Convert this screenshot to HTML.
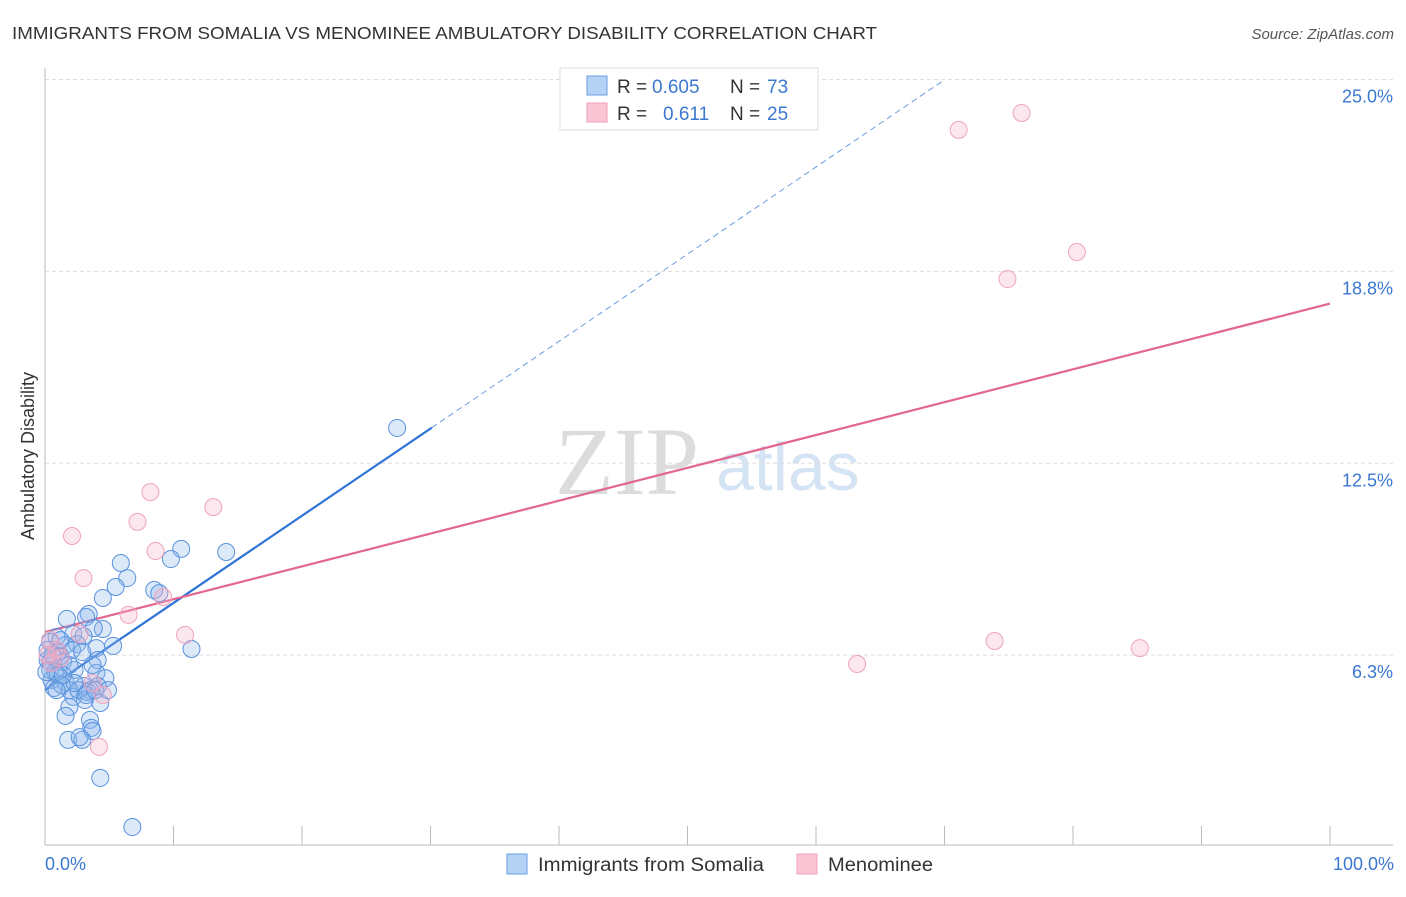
<!DOCTYPE html>
<html><head><meta charset="utf-8"><style>
body{margin:0;background:#fff;font-family:"Liberation Sans",sans-serif;}
</style></head><body>
<svg width="1406" height="892" xmlns="http://www.w3.org/2000/svg" font-family="Liberation Sans, sans-serif">
<text x="12" y="39" font-size="17.5" fill="#333" textLength="865" lengthAdjust="spacingAndGlyphs">IMMIGRANTS FROM SOMALIA VS MENOMINEE AMBULATORY DISABILITY CORRELATION CHART</text>
<text x="1394" y="39" font-size="15" fill="#555" font-style="italic" text-anchor="end">Source: ZipAtlas.com</text>
<text x="555" y="494" font-size="96" fill="#dcdcdc" font-family="Liberation Serif, serif">ZIP</text>
<text x="716" y="490" font-size="68" fill="#d5e4f5">atlas</text>
<g id="grid"></g>
<g id="axes"></g>
<g id="lines"></g>
<g id="pts"></g>
<text transform="translate(34,456) rotate(-90)" font-size="18" fill="#333" text-anchor="middle">Ambulatory Disability</text>
<text x="45" y="870" font-size="18" fill="#3b78d0">0.0%</text>
<text x="1394" y="870" font-size="18" fill="#3b78d0" text-anchor="end">100.0%</text>
<g>
<rect x="560" y="68" width="258" height="62" fill="#fff" stroke="#ddd"/>
<rect x="587" y="76" width="20" height="19" fill="#b5d1f3" stroke="#6a9ee0"/>
<rect x="587" y="103" width="20" height="19" fill="#fac6d6" stroke="#f0a0b8"/>
<text x="617" y="93" font-size="19" fill="#333">R = <tspan x="652" fill="#3b78d0">0.605</tspan><tspan x="730">N = </tspan><tspan x="767" fill="#3b78d0">73</tspan></text>
<text x="617" y="120" font-size="19" fill="#333">R = <tspan x="663" fill="#3b78d0">0.611</tspan><tspan x="730">N = </tspan><tspan x="767" fill="#3b78d0">25</tspan></text>
</g>
<g>
<rect x="507" y="854" width="20" height="20" fill="#b5d1f3" stroke="#6a9ee0"/>
<text x="538" y="871" font-size="19" fill="#333" textLength="226" lengthAdjust="spacingAndGlyphs">Immigrants from Somalia</text>
<rect x="797" y="854" width="20" height="20" fill="#fac6d6" stroke="#f0a0b8"/>
<text x="828" y="871" font-size="19" fill="#333" textLength="105" lengthAdjust="spacingAndGlyphs">Menominee</text>
</g>
</svg>
<script>
const yTicks=[25.0,18.75,12.5,6.25];
const yTickLabels=["25.0%","18.8%","12.5%","6.3%"];
const xTicks=[0,10,20,30,40,50,60,70,80,90,100];
const blueX=[27.4,10.6,14.1,9.8,5.9,6.4,5.5,8.5,8.9,4.5,3.4,1.7,3.2,4.5,3.8,2.2,3.0,0.9,0.4,2.5,5.3,4.0,11.4,1.0,4.1,0.4,1.4,2.3,0.8,4.0,4.7,0.5,1.6,3.0,4.1,3.5,0.7,1.9,2.2,3.1,4.3,1.9,1.6,3.5,3.6,3.7,1.8,2.9,2.7,4.3,6.8,0.2,0.4,1.0,1.3,1.9,2.6,3.3,1.2,0.2,0.6,1.6,2.1,2.9,3.7,0.9,2.3,3.2,3.9,0.1,1.2,4.9,1.4];
const blueY=[13.65,9.71,9.61,9.38,9.25,8.76,8.47,8.37,8.27,8.11,7.59,7.43,7.49,7.10,7.13,6.94,6.87,6.84,6.68,6.61,6.55,6.48,6.45,6.35,6.09,6.03,6.03,5.77,5.70,5.67,5.50,5.44,5.37,5.24,5.24,5.11,5.18,5.11,4.89,4.79,4.69,4.56,4.27,4.14,3.88,3.78,3.49,3.49,3.58,2.25,0.65,6.09,5.77,5.60,5.28,5.93,5.11,5.05,6.22,6.42,6.25,6.58,6.42,6.35,5.93,5.11,5.34,4.95,5.11,5.70,6.74,5.11,5.60];
const pinkX=[76.0,71.1,80.3,74.9,8.2,13.1,7.2,2.1,8.6,3.0,9.2,6.5,10.9,73.9,85.2,63.2,0.4,0.9,1.2,0.5,3.7,4.5,4.2,2.7,0.2];
const pinkY=[23.91,23.36,19.38,18.50,11.56,11.07,10.59,10.13,9.64,8.76,8.14,7.56,6.91,6.71,6.48,5.96,6.74,6.42,6.16,5.99,5.34,4.95,3.26,6.94,6.25];
const blueFit=[5.11,0.284];
const pinkFit=[7.0,0.107];
const NS="http://www.w3.org/2000/svg";
const X=v=>45+v*12.85, Y=v=>847-v*30.7;
function mk(t,a,p){const e=document.createElementNS(NS,t);for(const k in a)e.setAttribute(k,a[k]);p.appendChild(e);return e;}
const grid=document.getElementById('grid');
yTicks.forEach((t,i)=>{
 const l=mk('line',{x1:45,x2:1393,y1:Y(t),y2:Y(t),stroke:'#ddd','stroke-dasharray':'4,3'},grid);
 
 
 const tx=mk('text',{x:1393,y:Y(t)+23,'font-size':18,fill:'#3b78d0','text-anchor':'end'},grid);
 tx.textContent=yTickLabels[i];
 
 
});
const ax=document.getElementById('axes');
const ya=mk('line',{x1:45,x2:45,y1:68,y2:845,stroke:'#bbb'},ax);


const xa=mk('line',{x1:45,x2:1393,y1:845,y2:845,stroke:'#bbb'},ax);


xTicks.forEach(t=>{
 const l=mk('line',{x1:X(t),x2:X(t),y1:826,y2:845,stroke:'#bbb'},ax);
 
 
});
const ln=document.getElementById('lines');
const bl=mk('line',{x1:X(0),y1:Y(blueFit[0]),x2:X(30.1),y2:Y(blueFit[0]+blueFit[1]*30.1),stroke:'#2f74d6','stroke-width':2.2},ln);


const bd=mk('line',{x1:X(30.1),y1:Y(blueFit[0]+blueFit[1]*30.1),x2:X(69.9),y2:Y(blueFit[0]+blueFit[1]*69.9),stroke:'#6a9ee0','stroke-width':1,'stroke-dasharray':'6,4'},ln);


const pl=mk('line',{x1:X(0),y1:Y(pinkFit[0]),x2:X(100),y2:Y(pinkFit[0]+pinkFit[1]*100),stroke:'#e2668f','stroke-width':2.2},ln);


const pts=document.getElementById('pts');
blueX.forEach((x,i)=>{
 const c=mk('circle',{cx:X(x),cy:Y(blueY[i]),r:8.5,fill:'rgba(140,182,236,0.3)',stroke:'#5a92de','stroke-width':1},pts);
 
 
});
pinkX.forEach((x,i)=>{
 const c=mk('circle',{cx:X(x),cy:Y(pinkY[i]),r:8.5,fill:'rgba(247,175,198,0.3)',stroke:'#eea3bc','stroke-width':1},pts);
 
 
});
</script>
</body></html>
